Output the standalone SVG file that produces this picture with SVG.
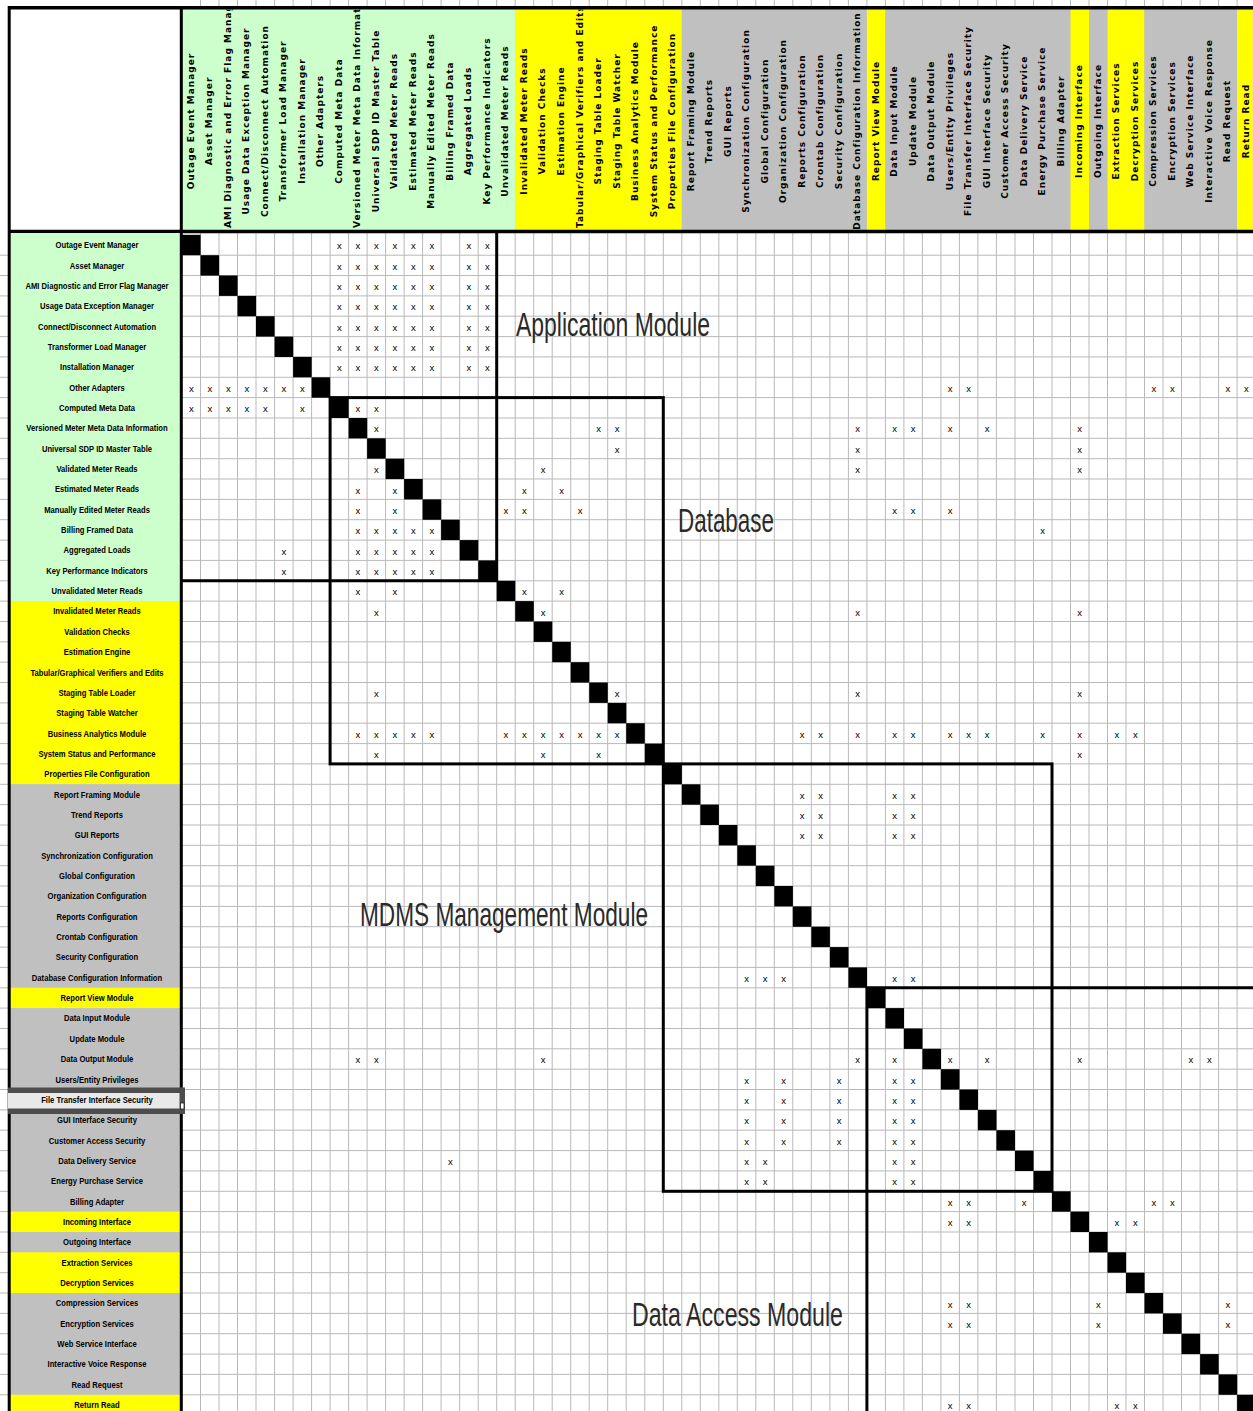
<svg xmlns="http://www.w3.org/2000/svg" width="1253" height="1411" viewBox="0 0 1253 1411">
<style>
.g{fill:#ccffcc}.y{fill:#ffff00}.s{fill:#c0c0c0}
.grid{stroke:#b9b9b9;stroke-width:1;fill:none}
.d{fill:#000}
.x{font-family:"Liberation Sans",Arial,sans-serif;font-size:9.5px;fill:#000;text-anchor:middle}
.h{font-family:"DejaVu Sans",sans-serif;font-weight:bold;font-size:9px;letter-spacing:1px;text-anchor:middle;fill:#000}
.hl{text-anchor:start}
.r{font-family:"Liberation Sans",Arial,sans-serif;font-weight:bold;font-size:9px;text-anchor:middle;fill:#000}
.m{font-family:"Liberation Sans",Arial,sans-serif;font-size:34px;fill:#2a2a2a}
.b{stroke:#000;stroke-width:3;fill:none}
</style>
<defs>
<clipPath id="hdrclip"><rect x="182" y="9.5" width="1071" height="220"/></clipPath>
</defs>
<rect width="1253" height="1411" fill="#fff"/>

<!-- cell grid -->
<g id="grid">
<path class="grid" d="M200.5 0V1411M219 0V1411M237.5 0V1411M256 0V1411M274.6 0V1411M293.1 0V1411M311.6 0V1411M330.1 0V1411M348.6 0V1411M367.1 0V1411M385.6 0V1411M404.1 0V1411M422.6 0V1411M441.1 0V1411M459.7 0V1411M478.2 0V1411M496.7 0V1411M515.2 0V1411M533.7 0V1411M552.2 0V1411M570.7 0V1411M589.2 0V1411M607.7 0V1411M626.2 0V1411M644.8 0V1411M663.3 0V1411M681.8 0V1411M700.3 0V1411M718.8 0V1411M737.3 0V1411M755.8 0V1411M774.3 0V1411M792.8 0V1411M811.3 0V1411M829.9 0V1411M848.4 0V1411M866.9 0V1411M885.4 0V1411M903.9 0V1411M922.4 0V1411M940.9 0V1411M959.4 0V1411M977.9 0V1411M996.4 0V1411M1015 0V1411M1033.5 0V1411M1052 0V1411M1070.5 0V1411M1089 0V1411M1107.5 0V1411M1126 0V1411M1144.5 0V1411M1163 0V1411M1181.5 0V1411M1200.1 0V1411M1218.6 0V1411M1237.1 0V1411"/>
<path class="grid" d="M0 255.2H1253M0 275.5H1253M0 295.9H1253M0 316.2H1253M0 336.6H1253M0 356.9H1253M0 377.3H1253M0 397.6H1253M0 418H1253M0 438.3H1253M0 458.7H1253M0 479H1253M0 499.4H1253M0 519.7H1253M0 540.1H1253M0 560.4H1253M0 580.8H1253M0 601.1H1253M0 621.5H1253M0 641.8H1253M0 662.2H1253M0 682.5H1253M0 702.9H1253M0 723.2H1253M0 743.6H1253M0 763.9H1253M0 784.3H1253M0 804.6H1253M0 825H1253M0 845.3H1253M0 865.7H1253M0 886H1253M0 906.4H1253M0 926.7H1253M0 947.1H1253M0 967.4H1253M0 987.8H1253M0 1008.1H1253M0 1028.5H1253M0 1048.8H1253M0 1069.2H1253M0 1089.5H1253M0 1109.9H1253M0 1130.2H1253M0 1150.6H1253M0 1170.9H1253M0 1191.3H1253M0 1211.6H1253M0 1232H1253M0 1252.3H1253M0 1272.7H1253M0 1293H1253M0 1313.4H1253M0 1333.7H1253M0 1354.1H1253M0 1374.4H1253M0 1394.8H1253"/>
</g>

<!-- diagonal -->
<g id="diagonal" class="d">
<rect x="182" y="234.8" width="18.6" height="20.4"/>
<rect x="200.5" y="255.2" width="18.6" height="20.4"/>
<rect x="219" y="275.5" width="18.6" height="20.4"/>
<rect x="237.5" y="295.9" width="18.6" height="20.4"/>
<rect x="256" y="316.2" width="18.6" height="20.4"/>
<rect x="274.6" y="336.6" width="18.6" height="20.4"/>
<rect x="293.1" y="356.9" width="18.6" height="20.4"/>
<rect x="311.6" y="377.3" width="18.6" height="20.4"/>
<rect x="330.1" y="397.6" width="18.6" height="20.4"/>
<rect x="348.6" y="418" width="18.6" height="20.4"/>
<rect x="367.1" y="438.3" width="18.6" height="20.4"/>
<rect x="385.6" y="458.7" width="18.6" height="20.4"/>
<rect x="404.1" y="479" width="18.6" height="20.4"/>
<rect x="422.6" y="499.4" width="18.6" height="20.4"/>
<rect x="441.1" y="519.7" width="18.6" height="20.4"/>
<rect x="459.7" y="540.1" width="18.6" height="20.4"/>
<rect x="478.2" y="560.4" width="18.6" height="20.4"/>
<rect x="496.7" y="580.8" width="18.6" height="20.4"/>
<rect x="515.2" y="601.1" width="18.6" height="20.4"/>
<rect x="533.7" y="621.5" width="18.6" height="20.4"/>
<rect x="552.2" y="641.8" width="18.6" height="20.4"/>
<rect x="570.7" y="662.2" width="18.6" height="20.4"/>
<rect x="589.2" y="682.5" width="18.6" height="20.4"/>
<rect x="607.7" y="702.9" width="18.6" height="20.4"/>
<rect x="626.2" y="723.2" width="18.6" height="20.4"/>
<rect x="644.8" y="743.6" width="18.6" height="20.4"/>
<rect x="663.3" y="763.9" width="18.6" height="20.4"/>
<rect x="681.8" y="784.3" width="18.6" height="20.4"/>
<rect x="700.3" y="804.6" width="18.6" height="20.4"/>
<rect x="718.8" y="825" width="18.6" height="20.4"/>
<rect x="737.3" y="845.3" width="18.6" height="20.4"/>
<rect x="755.8" y="865.7" width="18.6" height="20.4"/>
<rect x="774.3" y="886" width="18.6" height="20.4"/>
<rect x="792.8" y="906.4" width="18.6" height="20.4"/>
<rect x="811.3" y="926.7" width="18.6" height="20.4"/>
<rect x="829.9" y="947.1" width="18.6" height="20.4"/>
<rect x="848.4" y="967.4" width="18.6" height="20.4"/>
<rect x="866.9" y="987.8" width="18.6" height="20.4"/>
<rect x="885.4" y="1008.1" width="18.6" height="20.4"/>
<rect x="903.9" y="1028.5" width="18.6" height="20.4"/>
<rect x="922.4" y="1048.8" width="18.6" height="20.4"/>
<rect x="940.9" y="1069.2" width="18.6" height="20.4"/>
<rect x="959.4" y="1089.5" width="18.6" height="20.4"/>
<rect x="977.9" y="1109.9" width="18.6" height="20.4"/>
<rect x="996.4" y="1130.2" width="18.6" height="20.4"/>
<rect x="1015" y="1150.6" width="18.6" height="20.4"/>
<rect x="1033.5" y="1170.9" width="18.6" height="20.4"/>
<rect x="1052" y="1191.3" width="18.6" height="20.4"/>
<rect x="1070.5" y="1211.6" width="18.6" height="20.4"/>
<rect x="1089" y="1232" width="18.6" height="20.4"/>
<rect x="1107.5" y="1252.3" width="18.6" height="20.4"/>
<rect x="1126" y="1272.7" width="18.6" height="20.4"/>
<rect x="1144.5" y="1293" width="18.6" height="20.4"/>
<rect x="1163" y="1313.4" width="18.6" height="20.4"/>
<rect x="1181.5" y="1333.7" width="18.6" height="20.4"/>
<rect x="1200.1" y="1354.1" width="18.6" height="20.4"/>
<rect x="1218.6" y="1374.4" width="18.6" height="20.4"/>
<rect x="1237.1" y="1394.8" width="18.6" height="20.4"/>
</g>

<!-- dependency marks, one line per row -->
<g id="marks" class="x">
<text y="249.3" x="339.3 357.9 376.4 394.9 413.4 431.9 468.9 487.4">xxxxxxxx</text>
<text y="269.65" x="339.3 357.9 376.4 394.9 413.4 431.9 468.9 487.4">xxxxxxxx</text>
<text y="290" x="339.3 357.9 376.4 394.9 413.4 431.9 468.9 487.4">xxxxxxxx</text>
<text y="310.35" x="339.3 357.9 376.4 394.9 413.4 431.9 468.9 487.4">xxxxxxxx</text>
<text y="330.7" x="339.3 357.9 376.4 394.9 413.4 431.9 468.9 487.4">xxxxxxxx</text>
<text y="351.05" x="339.3 357.9 376.4 394.9 413.4 431.9 468.9 487.4">xxxxxxxx</text>
<text y="371.4" x="339.3 357.9 376.4 394.9 413.4 431.9 468.9 487.4">xxxxxxxx</text>
<text y="391.75" x="191.3 209.8 228.3 246.8 265.3 283.8 302.3 950.2 968.7 1153.8 1172.3 1227.8 1246.3">xxxxxxxxxxxxx</text>
<text y="412.1" x="191.3 209.8 228.3 246.8 265.3 302.3 357.9 376.4">xxxxxxxx</text>
<text y="432.45" x="376.4 598.5 617 857.6 894.6 913.2 950.2 987.2 1079.7">xxxxxxxxx</text>
<text y="452.8" x="617 857.6 1079.7">xxx</text>
<text y="473.15" x="376.4 543 857.6 1079.7">xxxx</text>
<text y="493.5" x="357.9 394.9 524.4 561.5">xxxx</text>
<text y="513.85" x="357.9 394.9 505.9 524.4 580 894.6 913.2 950.2">xxxxxxxx</text>
<text y="534.2" x="357.9 376.4 394.9 413.4 431.9 1042.7">xxxxxx</text>
<text y="554.55" x="283.8 357.9 376.4 394.9 413.4 431.9">xxxxxx</text>
<text y="574.9" x="283.8 357.9 376.4 394.9 413.4 431.9">xxxxxx</text>
<text y="595.25" x="357.9 394.9 524.4 561.5">xxxx</text>
<text y="615.6" x="376.4 543 857.6 1079.7">xxxx</text>
<text y="697" x="376.4 617 857.6 1079.7">xxxx</text>
<text y="737.7" x="357.9 376.4 394.9 413.4 431.9 505.9 524.4 543 561.5 580 598.5 617 802.1 820.6 857.6 894.6 913.2 950.2 968.7 987.2 1042.7 1079.7 1116.8 1135.3">xxxxxxxxxxxxxxxxxxxxxxxx</text>
<text y="758.05" x="376.4 543 598.5 1079.7">xxxx</text>
<text y="798.75" x="802.1 820.6 894.6 913.2">xxxx</text>
<text y="819.1" x="802.1 820.6 894.6 913.2">xxxx</text>
<text y="839.45" x="802.1 820.6 894.6 913.2">xxxx</text>
<text y="981.9" x="746.6 765.1 783.6 894.6 913.2">xxxxx</text>
<text y="1063.3" x="357.9 376.4 543 857.6 894.6 950.2 987.2 1079.7 1190.8 1209.3">xxxxxxxxxx</text>
<text y="1083.65" x="746.6 783.6 839.1 894.6 913.2">xxxxx</text>
<text y="1104" x="746.6 783.6 839.1 894.6 913.2">xxxxx</text>
<text y="1124.35" x="746.6 783.6 839.1 894.6 913.2">xxxxx</text>
<text y="1144.7" x="746.6 783.6 839.1 894.6 913.2">xxxxx</text>
<text y="1165.05" x="450.4 746.6 765.1 894.6 913.2">xxxxx</text>
<text y="1185.4" x="746.6 765.1 894.6 913.2">xxxx</text>
<text y="1205.75" x="950.2 968.7 1024.2 1153.8 1172.3">xxxxx</text>
<text y="1226.1" x="950.2 968.7 1116.8 1135.3">xxxx</text>
<text y="1307.5" x="950.2 968.7 1098.3 1227.8">xxxx</text>
<text y="1327.85" x="950.2 968.7 1098.3 1227.8">xxxx</text>
<text y="1409.25" x="950.2 968.7 1116.8 1135.3">xxxx</text>
</g>

<!-- module boundaries -->
<g id="modules">
<path id="box-application" class="b" d="M182 580.8H496.7V233"/>
<rect id="box-database" class="b" x="330.1" y="397.6" width="333.2" height="366.3"/>
<rect id="box-mdms" class="b" x="663.3" y="763.9" width="388.7" height="427.4"/>
<path id="box-data-access" class="b" d="M1253 987.8H866.9V1411"/>
</g>
<g id="module-labels" class="m">
<text x="516" y="336" textLength="194" lengthAdjust="spacingAndGlyphs">Application Module</text>
<text x="678" y="532" textLength="96" lengthAdjust="spacingAndGlyphs">Database</text>
<text x="360" y="926" textLength="288" lengthAdjust="spacingAndGlyphs">MDMS Management Module</text>
<text x="632" y="1326" textLength="211" lengthAdjust="spacingAndGlyphs">Data Access Module</text>
</g>

<!-- column header -->
<g id="header">
<rect x="9" y="8" width="173" height="224" fill="#fff"/>
<rect class="g" x="182" y="8" width="333.2" height="224"/>
<rect class="y" x="515.2" y="8" width="166.6" height="224"/>
<rect class="s" x="681.8" y="8" width="185.1" height="224"/>
<rect class="y" x="866.9" y="8" width="18.5" height="224"/>
<rect class="s" x="885.4" y="8" width="185.1" height="224"/>
<rect class="y" x="1070.5" y="8" width="18.5" height="224"/>
<rect class="s" x="1089" y="8" width="18.5" height="224"/>
<rect class="y" x="1107.5" y="8" width="37" height="224"/>
<rect class="s" x="1144.5" y="8" width="92.6" height="224"/>
<rect class="y" x="1237.1" y="8" width="16" height="224"/>
<g clip-path="url(#hdrclip)" class="h">
<text transform="translate(193.8,121) rotate(-90)">Outage Event Manager</text>
<text transform="translate(212.3,121) rotate(-90)">Asset Manager</text>
<text class="hl" transform="translate(230.8,228) rotate(-90)">AMI Diagnostic and Error Flag Manager</text>
<text transform="translate(249.3,121) rotate(-90)">Usage Data Exception Manager</text>
<text transform="translate(267.8,121) rotate(-90)">Connect/Disconnect Automation</text>
<text transform="translate(286.3,121) rotate(-90)">Transformer Load Manager</text>
<text transform="translate(304.8,121) rotate(-90)">Installation Manager</text>
<text transform="translate(323.3,121) rotate(-90)">Other Adapters</text>
<text transform="translate(341.8,121) rotate(-90)">Computed Meta Data</text>
<text class="hl" transform="translate(360.4,228) rotate(-90)">Versioned Meter Meta Data Information</text>
<text transform="translate(378.9,121) rotate(-90)">Universal SDP ID Master Table</text>
<text transform="translate(397.4,121) rotate(-90)">Validated Meter Reads</text>
<text transform="translate(415.9,121) rotate(-90)">Estimated Meter Reads</text>
<text transform="translate(434.4,121) rotate(-90)">Manually Edited Meter Reads</text>
<text transform="translate(452.9,121) rotate(-90)">Billing Framed Data</text>
<text transform="translate(471.4,121) rotate(-90)">Aggregated Loads</text>
<text transform="translate(489.9,121) rotate(-90)">Key Performance Indicators</text>
<text transform="translate(508.4,121) rotate(-90)">Unvalidated Meter Reads</text>
<text transform="translate(526.9,121) rotate(-90)">Invalidated Meter Reads</text>
<text transform="translate(545.4,121) rotate(-90)">Validation Checks</text>
<text transform="translate(564,121) rotate(-90)">Estimation Engine</text>
<text class="hl" transform="translate(582.5,228) rotate(-90)">Tabular/Graphical Verifiers and Edits</text>
<text transform="translate(601,121) rotate(-90)">Staging Table Loader</text>
<text transform="translate(619.5,121) rotate(-90)">Staging Table Watcher</text>
<text transform="translate(638,121) rotate(-90)">Business Analytics Module</text>
<text transform="translate(656.5,121) rotate(-90)">System Status and Performance</text>
<text transform="translate(675,121) rotate(-90)">Properties File Configuration</text>
<text transform="translate(693.5,121) rotate(-90)">Report Framing Module</text>
<text transform="translate(712,121) rotate(-90)">Trend Reports</text>
<text transform="translate(730.5,121) rotate(-90)">GUI Reports</text>
<text transform="translate(749.1,121) rotate(-90)">Synchronization Configuration</text>
<text transform="translate(767.6,121) rotate(-90)">Global Configuration</text>
<text transform="translate(786.1,121) rotate(-90)">Organization Configuration</text>
<text transform="translate(804.6,121) rotate(-90)">Reports Configuration</text>
<text transform="translate(823.1,121) rotate(-90)">Crontab Configuration</text>
<text transform="translate(841.6,121) rotate(-90)">Security Configuration</text>
<text transform="translate(860.1,121) rotate(-90)">Database Configuration Information</text>
<text transform="translate(878.6,121) rotate(-90)">Report View Module</text>
<text transform="translate(897.1,121) rotate(-90)">Data Input Module</text>
<text transform="translate(915.7,121) rotate(-90)">Update Module</text>
<text transform="translate(934.2,121) rotate(-90)">Data Output Module</text>
<text transform="translate(952.7,121) rotate(-90)">Users/Entity Privileges</text>
<text transform="translate(971.2,121) rotate(-90)">File Transfer Interface Security</text>
<text transform="translate(989.7,121) rotate(-90)">GUI Interface Security</text>
<text transform="translate(1008.2,121) rotate(-90)">Customer Access Security</text>
<text transform="translate(1026.7,121) rotate(-90)">Data Delivery Service</text>
<text transform="translate(1045.2,121) rotate(-90)">Energy Purchase Service</text>
<text transform="translate(1063.7,121) rotate(-90)">Billing Adapter</text>
<text transform="translate(1082.2,121) rotate(-90)">Incoming Interface</text>
<text transform="translate(1100.8,121) rotate(-90)">Outgoing Interface</text>
<text transform="translate(1119.3,121) rotate(-90)">Extraction Services</text>
<text transform="translate(1137.8,121) rotate(-90)">Decryption Services</text>
<text transform="translate(1156.3,121) rotate(-90)">Compression Services</text>
<text transform="translate(1174.8,121) rotate(-90)">Encryption Services</text>
<text transform="translate(1193.3,121) rotate(-90)">Web Service Interface</text>
<text transform="translate(1211.8,121) rotate(-90)">Interactive Voice Response</text>
<text transform="translate(1230.3,121) rotate(-90)">Read Request</text>
<text transform="translate(1248.8,121) rotate(-90)">Return Read</text>
</g>
<path d="M8 7.8H1253M8 231.5H1253" stroke="#000" stroke-width="3.5" fill="none"/>
</g>

<!-- row header -->
<g id="row-labels">
<rect class="g" x="9" y="233" width="173" height="368.1"/>
<rect class="y" x="9" y="601.1" width="173" height="183.2"/>
<rect class="s" x="9" y="784.3" width="173" height="203.5"/>
<rect class="y" x="9" y="987.8" width="173" height="20.3"/>
<rect class="s" x="9" y="1008.1" width="173" height="203.5"/>
<rect class="y" x="9" y="1211.6" width="173" height="20.4"/>
<rect class="s" x="9" y="1232" width="173" height="20.3"/>
<rect class="y" x="9" y="1252.3" width="173" height="40.7"/>
<rect class="s" x="9" y="1293" width="173" height="101.8"/>
<rect class="y" x="9" y="1394.8" width="173" height="16.2"/>
<path d="M9.2 6V1411M181.3 6V1411" stroke="#000" stroke-width="3" fill="none"/>
<g id="active-cell">
<rect x="8" y="1088" width="174" height="26" fill="#e9e9e9"/>
<rect x="8" y="1087.5" width="174" height="5.5" fill="#4d4d4d"/>
<rect x="8" y="1108.5" width="174" height="5.5" fill="#4d4d4d"/>
<rect x="179.5" y="1087.5" width="5.5" height="26.5" fill="#4d4d4d"/>
<rect x="180.6" y="1103" width="3.4" height="6" fill="#fff" stroke="#222" stroke-width="0.8"/>
</g>
<g class="r" transform="translate(97,0) scale(0.85,1)">
<text x="0" y="248.2">Outage Event Manager</text>
<text x="0" y="268.55">Asset Manager</text>
<text x="0" y="288.9">AMI Diagnostic and Error Flag Manager</text>
<text x="0" y="309.25">Usage Data Exception Manager</text>
<text x="0" y="329.6">Connect/Disconnect Automation</text>
<text x="0" y="349.95">Transformer Load Manager</text>
<text x="0" y="370.3">Installation Manager</text>
<text x="0" y="390.65">Other Adapters</text>
<text x="0" y="411">Computed Meta Data</text>
<text x="0" y="431.35">Versioned Meter Meta Data Information</text>
<text x="0" y="451.7">Universal SDP ID Master Table</text>
<text x="0" y="472.05">Validated Meter Reads</text>
<text x="0" y="492.4">Estimated Meter Reads</text>
<text x="0" y="512.75">Manually Edited Meter Reads</text>
<text x="0" y="533.1">Billing Framed Data</text>
<text x="0" y="553.45">Aggregated Loads</text>
<text x="0" y="573.8">Key Performance Indicators</text>
<text x="0" y="594.15">Unvalidated Meter Reads</text>
<text x="0" y="614.5">Invalidated Meter Reads</text>
<text x="0" y="634.85">Validation Checks</text>
<text x="0" y="655.2">Estimation Engine</text>
<text x="0" y="675.55">Tabular/Graphical Verifiers and Edits</text>
<text x="0" y="695.9">Staging Table Loader</text>
<text x="0" y="716.25">Staging Table Watcher</text>
<text x="0" y="736.6">Business Analytics Module</text>
<text x="0" y="756.95">System Status and Performance</text>
<text x="0" y="777.3">Properties File Configuration</text>
<text x="0" y="797.65">Report Framing Module</text>
<text x="0" y="818">Trend Reports</text>
<text x="0" y="838.35">GUI Reports</text>
<text x="0" y="858.7">Synchronization Configuration</text>
<text x="0" y="879.05">Global Configuration</text>
<text x="0" y="899.4">Organization Configuration</text>
<text x="0" y="919.75">Reports Configuration</text>
<text x="0" y="940.1">Crontab Configuration</text>
<text x="0" y="960.45">Security Configuration</text>
<text x="0" y="980.8">Database Configuration Information</text>
<text x="0" y="1001.15">Report View Module</text>
<text x="0" y="1021.5">Data Input Module</text>
<text x="0" y="1041.85">Update Module</text>
<text x="0" y="1062.2">Data Output Module</text>
<text x="0" y="1082.55">Users/Entity Privileges</text>
<text x="0" y="1102.9">File Transfer Interface Security</text>
<text x="0" y="1123.25">GUI Interface Security</text>
<text x="0" y="1143.6">Customer Access Security</text>
<text x="0" y="1163.95">Data Delivery Service</text>
<text x="0" y="1184.3">Energy Purchase Service</text>
<text x="0" y="1204.65">Billing Adapter</text>
<text x="0" y="1225">Incoming Interface</text>
<text x="0" y="1245.35">Outgoing Interface</text>
<text x="0" y="1265.7">Extraction Services</text>
<text x="0" y="1286.05">Decryption Services</text>
<text x="0" y="1306.4">Compression Services</text>
<text x="0" y="1326.75">Encryption Services</text>
<text x="0" y="1347.1">Web Service Interface</text>
<text x="0" y="1367.45">Interactive Voice Response</text>
<text x="0" y="1387.8">Read Request</text>
<text x="0" y="1408.15">Return Read</text>
</g>
</g>
</svg>
